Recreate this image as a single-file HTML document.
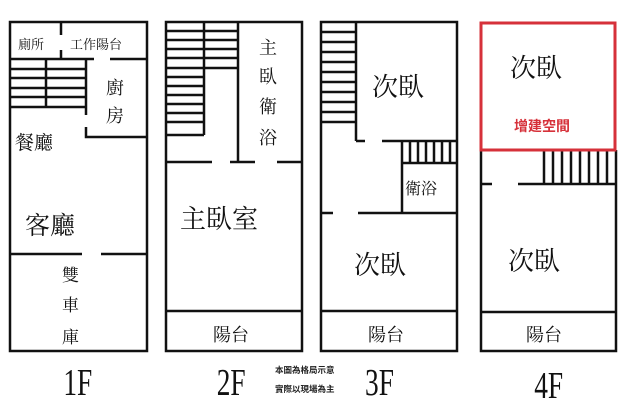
<!DOCTYPE html>
<html><head><meta charset="utf-8"><style>
html,body{margin:0;padding:0;background:#fff;width:640px;height:412px;overflow:hidden}
svg{display:block}
.c{font-family:"Liberation Serif","Noto Serif CJK SC",serif;fill:#111}
.f{font-family:"Liberation Serif",serif;fill:#111}
.s{font-family:"Liberation Sans","Noto Sans CJK TC",sans-serif;fill:#222;font-weight:bold}
</style></head><body>
<svg width="640" height="412" viewBox="0 0 640 412" xmlns="http://www.w3.org/2000/svg">
<g stroke="#111" stroke-width="2.5" fill="none">
<!-- 1F -->
<rect x="10" y="22" width="137" height="329"/>
<path d="M61 22V35M61 50V59"/>
<path d="M10 59H94M110 59H147"/>
<path d="M10 69H86M10 78H86M10 88H86M10 97H86M10 107H86M46 59V107"/>
<path d="M86 59V115M86 127V137H147"/>
<path d="M10 254H82M101 254H147"/>
<!-- 2F -->
<rect x="166" y="22" width="136" height="329"/>
<path d="M204 22V68M238 22V162"/>
<path d="M166 31H238M166 40H238M166 49H238M166 58H238M166 68H238"/>
<path d="M166 77H204M166 86H204M166 95H204M166 104H204M166 113H204M166 122H204M166 135H204M204 68V135"/>
<path d="M166 162H212M230 162H255M277 162H302"/>
<path d="M166 311H302"/>
<!-- 3F -->
<rect x="321" y="22" width="136" height="329"/>
<path d="M356 22V141M321 32H356M321 42H356M321 52H356M321 62H356M321 72H356M321 82H356M321 92H356M321 102H356M321 112H356M321 122H356"/>
<path d="M356 141H365M382 141H457"/>
<path d="M402 141V213M402 163H457M410 141V163M418 141V163M426 141V163M434 141V163M442 141V163M450 141V163"/>
<path d="M321 213H333M358 213H457"/>
<path d="M321 311H457"/>
<!-- 4F -->
<path d="M481 150V351H616V150"/>
<path d="M481 184H492M518 184H616"/>
<path d="M544 150V184M553 150V184M562 150V184M571 150V184M580 150V184M589 150V184M598 150V184M607 150V184"/>
<path d="M481 312H616"/>
</g>
<rect x="481" y="23" width="134" height="127" fill="none" stroke="#d6313a" stroke-width="3"/>
<!-- labels -->
<text class="c" x="18" y="49" font-size="13">廁所</text>
<text class="c" x="70" y="49" font-size="13">工作陽台</text>
<text class="c" x="106" y="94" font-size="18">廚</text>
<text class="c" x="106" y="122" font-size="18">房</text>
<text class="c" x="15" y="149" font-size="19">餐廳</text>
<text class="c" x="25" y="234" font-size="25">客廳</text>
<text class="c" x="62" y="281" font-size="17">雙</text>
<text class="c" x="62" y="311" font-size="17">車</text>
<text class="c" x="62" y="343" font-size="17">庫</text>
<text class="c" x="259" y="54" font-size="18">主</text>
<text class="c" x="259" y="83" font-size="18">臥</text>
<text class="c" x="259" y="113" font-size="18">衛</text>
<text class="c" x="259" y="144" font-size="18">浴</text>
<text class="c" x="180" y="228" font-size="26">主臥室</text>
<text class="c" x="213" y="341" font-size="18">陽台</text>
<text class="c" x="372" y="96" font-size="26">次臥</text>
<text class="c" x="405" y="194" font-size="16">衛浴</text>
<text class="c" x="354" y="274" font-size="26">次臥</text>
<text class="c" x="368" y="341" font-size="18">陽台</text>
<text class="c" x="510" y="77" font-size="26">次臥</text>
<text x="514" y="131" font-size="14" fill="#d6313a" font-family="Liberation Sans,'Noto Sans CJK TC',sans-serif" font-weight="bold">增建空間</text>
<text class="c" x="508" y="270" font-size="26">次臥</text>
<text class="c" x="526" y="341" font-size="18">陽台</text>
<g transform="scale(0.72,1)">
<text class="f" x="88" y="395" font-size="38">1F</text>
<text class="f" x="301" y="395" font-size="38">2F</text>
<text class="f" x="507" y="395" font-size="38">3F</text>
<text class="f" x="742" y="398" font-size="38">4F</text>
</g>
<text class="s" x="275" y="373" font-size="8.5">本圖為格局示意</text>
<text class="s" x="275" y="392" font-size="8.5">實際以現場為主</text>
</svg>
</body></html>
